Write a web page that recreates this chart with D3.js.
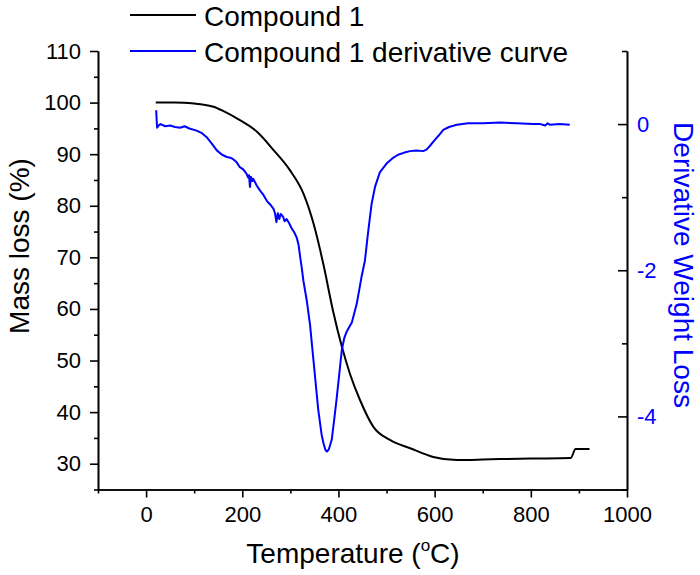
<!DOCTYPE html>
<html>
<head>
<meta charset="utf-8">
<script src="https://cdn.jsdelivr.net/npm/d3@7"></script>
<style>
  html, body { margin: 0; padding: 0; background: #fff; }
  svg { display: block; font-family: "Liberation Sans", Arial, sans-serif; }
</style>
</head>
<body>
<svg id="chart" width="700" height="575"></svg>
<script>
// ---- Data ----
const seriesNames = ["Compound 1", "Compound 1 derivative curve"];
const tgaTemp = [20, 60, 100, 120, 140, 160, 195, 230, 265, 299, 327, 348, 362, 369, 389, 407, 424, 445, 473, 507, 549, 597, 646, 700, 736, 800, 883, 893, 922];
const tgaMass = [100, 100, 99.8, 99.6, 99.2, 98.4, 96.6, 94.4, 90.8, 86.9, 82.4, 76.6, 71.4, 68.5, 59.5, 52.7, 47.4, 42.3, 37.1, 34.6, 33.0, 31.3, 30.7, 30.8, 30.9, 31.0, 31.1, 32.85, 32.85];

const dtgTemp = [21, 22, 23, 26, 30, 40, 50, 60, 71, 80, 90, 105, 115, 126, 137, 147, 158, 168, 175, 181, 188, 195, 202, 209, 212, 214, 216, 218, 221, 223, 230, 237, 244, 251, 258, 265, 268, 271, 274, 277, 280, 285, 288, 292, 297, 303, 308, 313, 317, 320, 324, 327, 334, 341, 348, 358, 365, 369, 373, 376, 380, 386, 391, 396, 402, 407, 412, 417, 428, 438, 448, 455, 462, 469, 476, 486, 500, 512, 524, 537, 549, 562, 576, 583, 590, 600, 608, 618, 630, 646, 670, 701, 736, 770, 805, 820, 830, 835, 840, 860, 881];
const dtgValue = [0.19, 0.05, -0.05, -0.02, 0.0, -0.03, -0.02, -0.04, -0.05, -0.03, -0.06, -0.09, -0.12, -0.18, -0.27, -0.36, -0.42, -0.45, -0.46, -0.48, -0.52, -0.59, -0.62, -0.68, -0.73, -0.70, -0.86, -0.72, -0.78, -0.75, -0.84, -0.91, -0.97, -1.05, -1.10, -1.16, -1.22, -1.34, -1.22, -1.30, -1.23, -1.27, -1.33, -1.30, -1.35, -1.43, -1.48, -1.55, -1.65, -1.80, -1.98, -2.14, -2.41, -2.75, -3.23, -3.91, -4.25, -4.37, -4.46, -4.48, -4.45, -4.32, -4.05, -3.77, -3.40, -3.09, -2.93, -2.84, -2.71, -2.46, -2.09, -1.87, -1.46, -1.09, -0.86, -0.66, -0.54, -0.47, -0.42, -0.39, -0.37, -0.36, -0.37, -0.35, -0.30, -0.22, -0.16, -0.08, -0.04, -0.01, 0.01, 0.01, 0.02, 0.01, 0.0, 0.0, -0.02, 0.01, -0.01, 0.0, -0.01];

const xTicks = [0, 200, 400, 600, 800, 1000];
const xMinorTicks = [-100, 100, 300, 500, 700, 900];
const yLeftTicks = [30, 40, 50, 60, 70, 80, 90, 100, 110];
const yLeftMinorTicks = [25, 35, 45, 55, 65, 75, 85, 95, 105];
const yRightTicks = [-4, -2, 0];
const yRightMinorTicks = [-5, -3, -1, 1];

// ---- Layout ----
const svg = d3.select("#chart");
const plotLeft = 98, plotRight = 627, plotTop = 51, plotBottom = 489.5;
const blue = "#0000ff";
const plain = d => String(d);

const x = d3.scaleLinear().domain([-100, 1000]).range([plotLeft, plotRight]);
const yL = d3.scaleLinear().domain([25, 110]).range([plotBottom, plotTop]);
const yR = d3.scaleLinear().domain([-5, 1]).range([plotBottom, plotTop]);

// ---- Axes ----
const axisStyle = g => {
  g.selectAll(".domain").attr("stroke", "#000").attr("stroke-width", 1.6);
  g.selectAll(".tick line").attr("stroke", "#000").attr("stroke-width", 1.6);
};

// bottom
svg.append("g").attr("transform", `translate(0,${plotBottom})`)
  .call(d3.axisBottom(x).tickValues(xMinorTicks).tickSize(4).tickFormat("").tickSizeOuter(0))
  .call(axisStyle);
const gx = svg.append("g").attr("transform", `translate(0,${plotBottom})`)
  .call(d3.axisBottom(x).tickValues(xTicks).tickSize(8).tickPadding(9).tickSizeOuter(0).tickFormat(plain))
  .call(axisStyle);
gx.selectAll(".tick text").attr("font-size", 22).attr("fill", "#000")
  .attr("font-family", "Liberation Sans, Arial, sans-serif");

// left
svg.append("g").attr("transform", `translate(${plotLeft},0)`)
  .call(d3.axisLeft(yL).tickValues(yLeftMinorTicks).tickSize(4).tickFormat("").tickSizeOuter(0))
  .call(axisStyle);
const gyl = svg.append("g").attr("transform", `translate(${plotLeft},0)`)
  .call(d3.axisLeft(yL).tickValues(yLeftTicks).tickSize(8).tickPadding(9).tickSizeOuter(0).tickFormat(plain))
  .call(axisStyle);
gyl.selectAll(".tick text").attr("font-size", 22).attr("fill", "#000")
  .attr("font-family", "Liberation Sans, Arial, sans-serif");

// right (ticks inward)
svg.append("g").attr("transform", `translate(${plotRight},0)`)
  .call(d3.axisRight(yR).tickValues(yRightMinorTicks).tickSize(-5).tickFormat("").tickSizeOuter(0))
  .call(axisStyle);
const gyr = svg.append("g").attr("transform", `translate(${plotRight},0)`)
  .call(d3.axisRight(yR).tickValues(yRightTicks).tickSize(-9).tickPadding(19).tickSizeOuter(0).tickFormat(plain))
  .call(axisStyle);
gyr.selectAll(".tick text").attr("font-size", 22).attr("fill", blue)
  .attr("font-family", "Liberation Sans, Arial, sans-serif")
  .attr("text-anchor", "start").attr("x", 10);

// ---- Lines ----
const tgaData = tgaTemp.map((t, i) => [t, tgaMass[i]]);
const dtgData = dtgTemp.map((t, i) => [t, dtgValue[i]]);

svg.append("path").datum(tgaData)
  .attr("fill", "none").attr("stroke", "#000").attr("stroke-width", 2)
  .attr("d", d3.line().x(d => x(d[0])).y(d => yL(d[1])).curve(d3.curveMonotoneX));

svg.append("path").datum(dtgData)
  .attr("fill", "none").attr("stroke", blue).attr("stroke-width", 2)
  .attr("stroke-linejoin", "round")
  .attr("d", d3.line().x(d => x(d[0])).y(d => yR(d[1])).curve(d3.curveLinear));

// ---- Titles ----
svg.append("text").attr("transform", "translate(29,246) rotate(-90)")
  .attr("text-anchor", "middle").attr("font-size", 28).attr("fill", "#000")
  .text("Mass loss (%)");

svg.append("text").attr("transform", "translate(674,265) rotate(90)")
  .attr("text-anchor", "middle").attr("font-size", 28).attr("fill", blue)
  .text("Derivative Weight Loss");

const xt = svg.append("text").attr("x", 353).attr("y", 563)
  .attr("text-anchor", "middle").attr("font-size", 28).attr("fill", "#000");
xt.append("tspan").text("Temperature (");
xt.append("tspan").attr("font-size", 17).attr("dy", -12).text("o");
xt.append("tspan").attr("dy", 12).text("C)");

// ---- Legend ----
const legendColors = ["#000", blue];
const legendY = [15, 51];
seriesNames.forEach((name, i) => {
  svg.append("line").attr("x1", 130).attr("x2", 196)
    .attr("y1", legendY[i]).attr("y2", legendY[i])
    .attr("stroke", legendColors[i]).attr("stroke-width", 2);
  svg.append("text").attr("x", 204).attr("y", legendY[i] + 11)
    .attr("font-size", 28).attr("fill", "#000").text(name);
});
</script>
</body>
</html>
